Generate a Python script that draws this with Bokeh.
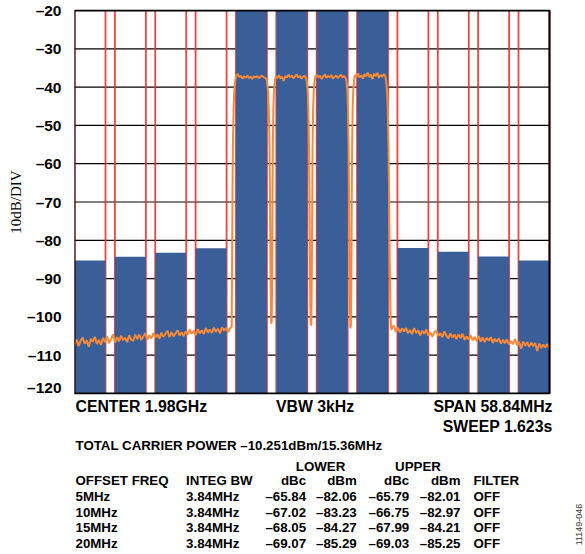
from bokeh.plotting import figure
from bokeh.models import Label, FixedTicker, Range1d
from bokeh.layouts import column
from bokeh.embed import file_html
from bokeh.resources import INLINE

# ---------------- data ----------------
CENTER_LABEL = "CENTER 1.98GHz"
VBW_LABEL = "VBW 3kHz"
SPAN_LABEL = "SPAN 58.84MHz"
SWEEP_LABEL = "SWEEP 1.623s"
TOTAL_LABEL = "TOTAL CARRIER POWER –10.251dBm/15.36MHz"
span_mhz = 58.84
channel_bw = 3.84

carrier_freq = [-7.5, -2.5, 2.5, 7.5]
carrier_dbm = [-16.27, -16.27, -16.27, -16.27]

offset_label = ["5MHz", "10MHz", "15MHz", "20MHz"]
offset_mhz = [5, 10, 15, 20]
integ_bw = ["3.84MHz", "3.84MHz", "3.84MHz", "3.84MHz"]
lower_dbc = [-65.84, -67.02, -68.05, -69.07]
lower_dbm = [-82.06, -83.23, -84.27, -85.29]
upper_dbc = [-65.79, -66.75, -67.99, -69.03]
upper_dbm = [-82.01, -82.97, -84.21, -85.25]
filter_state = ["OFF", "OFF", "OFF", "OFF"]

y_ticks = [-120, -110, -100, -90, -80, -70, -60, -50, -40, -30, -20]

# measured spectrum trace (MHz offset from centre, dBm)
trace_freq = [
    -29.40, -29.15, -28.90, -28.65, -28.40, -28.15, -27.90, -27.65, -27.40, -27.15,
    -26.90, -26.65, -26.40, -26.15, -25.90, -25.65, -25.40, -25.15, -24.90, -24.65,
    -24.40, -24.15, -23.90, -23.65, -23.40, -23.15, -22.90, -22.65, -22.40, -22.15,
    -21.90, -21.65, -21.40, -21.15, -20.90, -20.65, -20.40, -20.15, -19.90, -19.65,
    -19.40, -19.15, -18.90, -18.65, -18.40, -18.15, -17.90, -17.65, -17.40, -17.15,
    -16.90, -16.65, -16.40, -16.15, -15.90, -15.65, -15.40, -15.15, -14.90, -14.65,
    -14.40, -14.15, -13.90, -13.65, -13.40, -13.15, -12.90, -12.65, -12.40, -12.15,
    -11.90, -11.65, -11.40, -11.15, -10.90, -10.65, -10.40, -10.15, -9.95,
    -9.90, -9.85, -9.78, -9.70, -9.60, -9.50, -9.40, -9.20, -9.00, -8.80,
    -8.60, -8.40, -8.20, -8.00, -7.80, -7.60, -7.40, -7.20, -7.00, -6.80,
    -6.60, -6.40, -6.20, -6.00, -5.80, -5.62, -5.52, -5.42, -5.34, -5.26,
    -5.20, -5.15, -5.10, -5.05, -4.99, -4.94,
    -4.90, -4.85, -4.78, -4.70, -4.60, -4.50, -4.30, -4.10, -3.90, -3.70,
    -3.50, -3.30, -3.10, -2.90, -2.70, -2.50, -2.30, -2.10, -1.90, -1.70,
    -1.50, -1.30, -1.10, -0.90, -0.72, -0.62, -0.52, -0.44, -0.36, -0.30,
    -0.25, -0.20, -0.14, -0.08, -0.03,
    0.02, 0.07, 0.14, 0.22, 0.32, 0.42, 0.60, 0.80, 1.00, 1.20,
    1.40, 1.60, 1.80, 2.00, 2.20, 2.40, 2.60, 2.80, 3.00, 3.20,
    3.40, 3.60, 3.80, 4.00, 4.18, 4.28, 4.38, 4.46, 4.54, 4.60,
    4.65, 4.70, 4.76, 4.82, 4.87,
    4.92, 4.97, 5.04, 5.12, 5.22, 5.32, 5.50, 5.70, 5.90, 6.10,
    6.30, 6.50, 6.70, 6.90, 7.10, 7.30, 7.50, 7.70, 7.90, 8.10,
    8.30, 8.50, 8.70, 8.90, 9.08, 9.18, 9.28, 9.38, 9.48, 9.56,
    9.63, 9.70, 9.78, 9.87, 9.95,
    10.15, 10.40, 10.65, 10.90, 11.15, 11.40, 11.65, 11.90, 12.15, 12.40,
    12.65, 12.90, 13.15, 13.40, 13.65, 13.90, 14.15, 14.40, 14.65, 14.90,
    15.15, 15.40, 15.65, 15.90, 16.15, 16.40, 16.65, 16.90, 17.15, 17.40,
    17.65, 17.90, 18.15, 18.40, 18.65, 18.90, 19.15, 19.40, 19.65, 19.90,
    20.15, 20.40, 20.65, 20.90, 21.15, 21.40, 21.65, 21.90, 22.15, 22.40,
    22.65, 22.90, 23.15, 23.40, 23.65, 23.90, 24.15, 24.40, 24.65, 24.90,
    25.15, 25.40, 25.65, 25.90, 26.15, 26.40, 26.65, 26.90, 27.15, 27.40,
    27.65, 27.90, 28.15, 28.40, 28.65, 28.90, 29.15, 29.40,
]
trace_level = [
    -107.3, -105.9, -107.6, -106.2, -105.4, -107.0, -106.1, -107.8, -105.7, -106.5,
    -105.2, -107.1, -106.0, -107.3, -105.5, -106.6, -105.0, -106.9, -105.8, -104.6,
    -106.7, -105.3, -106.4, -104.9, -106.1, -105.4, -106.6, -104.8, -105.9, -106.3,
    -104.7, -105.8, -104.6, -106.0, -105.1, -104.3, -105.9, -104.8, -105.6, -104.2,
    -105.4, -104.5, -105.7, -104.1, -105.2, -104.4, -103.6, -105.3, -104.0, -105.1,
    -104.3, -103.5, -104.9, -104.0, -105.0, -103.8, -104.6, -103.3, -104.4, -103.6,
    -104.8, -103.2, -104.3, -103.5, -104.5, -102.9, -104.1, -103.3, -104.2, -102.8,
    -103.9, -103.1, -104.3, -102.7, -103.6, -102.9, -104.0, -103.0, -102.6,
    -86.0, -67.0, -53.0, -44.5, -40.3, -38.2, -37.0, -36.6, -37.4, -37.1,
    -37.8, -37.2, -37.5, -37.0, -37.6, -37.3, -37.9, -37.2, -37.5, -37.1,
    -37.7, -37.3, -37.0, -37.4, -37.6, -38.0, -39.4, -41.8, -46.5, -56.0,
    -70.0, -86.0, -97.0, -101.8, -100.9, -90.0,
    -72.0, -55.0, -45.0, -40.6, -38.3, -37.2, -37.6, -36.9, -37.8, -37.3,
    -38.4, -37.1, -37.5, -36.8, -37.4, -37.0, -37.7, -37.2, -36.7, -37.5,
    -37.1, -37.8, -37.3, -37.0, -37.9, -38.9, -41.5, -46.0, -57.0, -72.0,
    -88.0, -98.0, -102.3, -101.5, -91.0,
    -73.0, -56.0, -45.5, -40.8, -38.4, -37.2, -36.8, -37.5, -37.0, -37.9,
    -37.2, -36.7, -37.6, -37.1, -37.4, -36.9, -37.8, -37.3, -37.0, -37.6,
    -37.2, -36.8, -37.5, -37.1, -37.7, -38.7, -41.0, -45.5, -56.0, -71.0,
    -87.0, -98.0, -103.0, -102.0, -91.0,
    -72.0, -55.0, -45.0, -40.5, -38.0, -36.8, -37.3, -36.4, -37.5, -36.9,
    -37.8, -36.6, -37.2, -36.2, -37.4, -36.7, -37.9, -36.5, -37.1, -36.3,
    -37.6, -36.8, -37.3, -36.6, -37.2, -38.3, -40.6, -45.0, -55.0, -70.0,
    -86.0, -97.0, -102.6, -103.4, -102.5,
    -102.4, -103.9, -102.8, -104.1, -103.0, -103.8, -102.9, -104.3, -103.4, -104.5,
    -102.9, -104.2, -103.5, -104.8, -103.6, -104.4, -103.3, -104.9, -104.0, -105.2,
    -104.1, -103.5, -105.0, -104.2, -105.3, -103.8, -104.9, -105.6, -104.3, -105.4,
    -104.6, -105.8, -104.5, -105.5, -104.4, -106.0, -105.1, -105.9, -104.8, -106.1,
    -105.2, -106.3, -105.0, -106.4, -105.4, -106.6, -105.5, -106.2, -105.3, -106.8,
    -105.7, -106.5, -105.6, -107.0, -106.0, -106.9, -105.9, -107.2, -106.3, -107.1,
    -105.8, -107.4, -106.5, -108.3, -106.4, -107.5, -106.6, -107.8, -106.7, -107.6,
    -106.8, -108.9, -107.0, -108.1, -107.2, -108.0, -107.1, -108.2,
]

# ---------------- layout constants (page pixels, page origin = figure origin) ----
BLUE = "#3a5e97"
ORANGE = "#f7893b"
RED = "#ee2f2f"
FONT = "Liberation Sans"

FIG_W = 585
PLOT_L, PLOT_R = 74, 549          # plot box on the page
PLOT_T, PLOT_B = 10, 393
FRAME_T, FRAME_H = PLOT_T - 1, (PLOT_B - PLOT_T) + 2
MAIN_H = FRAME_T + FRAME_H + 1
TEXT_TOP = MAIN_H
TEXT_H = 554 - MAIN_H

X0, X1 = -span_mhz / 2, span_mhz / 2
mhz_per_px = span_mhz / (PLOT_R - PLOT_L)
XR = X0 + (FIG_W - PLOT_L) * mhz_per_px
Y0, Y1 = -120, -20
PAD = (Y1 - Y0) / (PLOT_B - PLOT_T)     # one pixel in dB


def dash(v):
    return f"{v:.2f}".replace("-", "–")


p = figure(width=FIG_W, height=MAIN_H, x_range=Range1d(X0, XR),
           y_range=Range1d(Y0 - PAD, Y1 + PAD),
           output_backend="svg", toolbar_location=None, x_axis_location=None,
           min_border_left=PLOT_L, min_border_top=FRAME_T,
           min_border_right=0, min_border_bottom=1)
p.background_fill_color = "white"
p.border_fill_color = "white"
p.outline_line_color = None
p.xgrid.visible = False
p.ygrid.visible = False

yax = p.yaxis[0]
yax.ticker = FixedTicker(ticks=y_ticks)
yax.major_label_overrides = {t: str(t).replace("-", "–") for t in y_ticks}
yax.major_label_text_font = FONT
yax.major_label_text_font_style = "bold"
yax.major_label_text_font_size = "15.5px"
yax.major_label_text_color = "black"
yax.major_label_standoff = 7
yax.major_tick_line_color = None
yax.minor_tick_line_color = None
yax.axis_line_color = None
yax.axis_label = "10dB/DIV"
yax.axis_label_text_font = "Liberation Serif"
yax.axis_label_text_font_style = "normal"
yax.axis_label_text_font_size = "15px"
yax.axis_label_text_color = "black"
yax.axis_label_standoff = 0

# horizontal grid (10 dB/div) limited to the plot box
p.segment(x0=[X0] * len(y_ticks), y0=y_ticks, x1=[X1] * len(y_ticks), y1=y_ticks,
          line_color="black", line_width=1.2)

# channels
lower_freq = [-(7.5 + o) for o in offset_mhz]
upper_freq = [7.5 + o for o in offset_mhz]
chan_freq = lower_freq + carrier_freq + upper_freq
chan_level = lower_dbm + carrier_dbm + upper_dbm

edges = []
for c in chan_freq:
    edges += [c - channel_bw / 2, c + channel_bw / 2]
p.segment(x0=edges, y0=[Y0] * len(edges), x1=edges, y1=[Y1] * len(edges),
          line_color=RED, line_width=1.8, line_alpha=0.9)

bar_top = [min(v, Y1) for v in chan_level]
p.vbar(x=chan_freq, width=channel_bw, bottom=Y0, top=bar_top,
       fill_color=BLUE, line_color=None)

p.line(trace_freq, trace_level, line_color=ORANGE, line_width=2)

# plot box
p.quad(left=[X0], right=[X1], bottom=[Y0], top=[Y1], fill_color=None,
       line_color="black", line_width=2)

# ---------------- text panel below the plot ----------------
t = figure(width=FIG_W, height=TEXT_H, x_range=Range1d(PLOT_L, FIG_W),
           y_range=Range1d(TEXT_TOP + TEXT_H, TEXT_TOP), output_backend="svg",
           toolbar_location=None, x_axis_location=None, y_axis_location=None,
           min_border_left=PLOT_L, min_border_right=0, min_border_top=0,
           min_border_bottom=0, outline_line_color=None)
t.xgrid.visible = False
t.ygrid.visible = False
t.background_fill_color = "white"
t.border_fill_color = "white"


def lab(text, px, py, size, align="left", bold=True):
    t.add_layout(Label(x=px, y=py, text=text, text_font=FONT,
                       text_font_size=size, text_align=align,
                       text_baseline="middle", text_color="black",
                       text_font_style="bold" if bold else "normal"))


BIG = "15.8px"
SMALL = "13.3px"
lab(CENTER_LABEL, 75, 406, BIG)
lab(VBW_LABEL, 314.6, 406, BIG, "center")
lab(SPAN_LABEL, 552, 406, BIG, "right")
lab(SWEEP_LABEL, 552, 426, BIG, "right")
lab(TOTAL_LABEL, 75, 445, SMALL)

lab("LOWER", 320, 466, SMALL, "center")
lab("UPPER", 417.5, 466, SMALL, "center")
hy = 479.5
lab("OFFSET FREQ", 75, hy, SMALL)
lab("INTEG BW", 185.6, hy, SMALL)
lab("dBc", 305.6, hy, SMALL, "right")
lab("dBm", 356.2, hy, SMALL, "right")
lab("dBc", 408.7, hy, SMALL, "right")
lab("dBm", 460, hy, SMALL, "right")
lab("FILTER", 473, hy, SMALL)

row_y = [496, 511.5, 527, 543]
for i in range(4):
    ry = row_y[i]
    lab(offset_label[i], 75, ry, SMALL)
    lab(integ_bw[i], 185.6, ry, SMALL)
    lab(dash(lower_dbc[i]), 305.6, ry, SMALL, "right")
    lab(dash(lower_dbm[i]), 356.2, ry, SMALL, "right")
    lab(dash(upper_dbc[i]), 408.7, ry, SMALL, "right")
    lab(dash(upper_dbm[i]), 460, ry, SMALL, "right")
    lab(filter_state[i], 473, ry, SMALL)

t.add_layout(Label(x=578, y=524, text="11149-046", angle=90,
                   angle_units="deg", text_font=FONT, text_font_size="9px",
                   text_align="center", text_baseline="middle",
                   text_color="#333333"))

layout = column(p, t, spacing=0)
open("out.html", "w").write(file_html(layout, INLINE))
